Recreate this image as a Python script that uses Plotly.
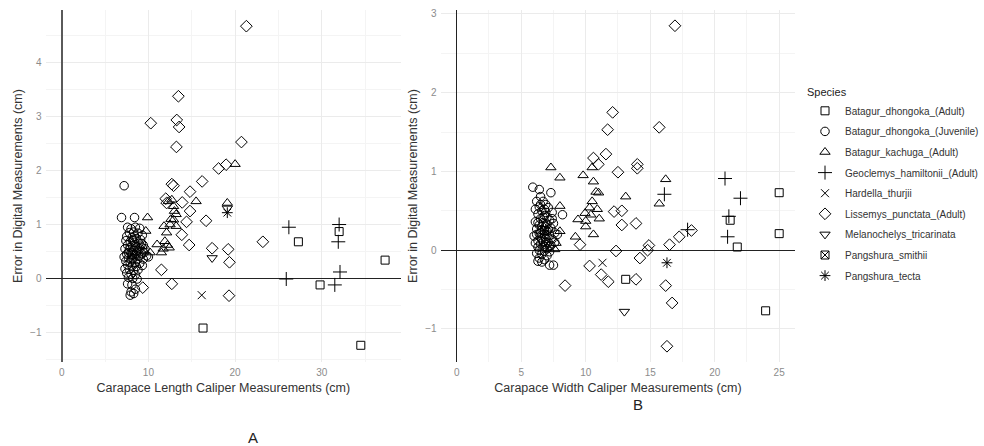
import plotly.graph_objects as go

# ---------------- species / categories ----------------
species = [
    "Batagur_dhongoka_(Adult)",
    "Batagur_dhongoka_(Juvenile)",
    "Batagur_kachuga_(Adult)",
    "Geoclemys_hamiltonii_(Adult)",
    "Hardella_thurjii",
    "Lissemys_punctata_(Adult)",
    "Melanochelys_tricarinata",
    "Pangshura_smithii",
    "Pangshura_tecta",
]

# ---------------- Panel A : carapace length vs error ----------------
a_bd_adult_x = [16.3, 27.3, 32.0, 37.3, 29.8, 34.5]
a_bd_adult_y = [-0.92, 0.68, 0.87, 0.34, -0.12, -1.24]

a_bd_juv_x = [7.2, 6.9, 8.4, 7.6, 8.0, 8.5, 9.0, 7.8, 8.3, 8.8, 9.3, 7.5, 8.1, 8.6, 9.1,
              7.4, 7.9, 8.4, 8.9, 9.4, 7.6, 8.2, 8.7, 9.6, 7.3, 7.8, 8.3, 8.0, 8.6, 9.2,
              7.5, 8.1, 8.4, 8.9, 9.8, 7.2, 7.7, 8.2, 8.7, 9.4, 7.4, 7.9, 8.5, 9.0, 7.6,
              8.1, 8.6, 9.3, 7.3, 7.8, 8.3, 8.8, 7.5, 8.0, 8.5, 7.7, 8.2, 8.7, 7.6, 8.1,
              8.5, 8.0, 7.9, 8.3, 9.0, 9.5, 7.9, 8.4, 10.0, 8.8, 7.7, 8.2, 8.0, 8.5, 9.2]
a_bd_juv_y = [1.72, 1.13, 1.13, 0.95, 0.92, 0.95, 0.93, 0.85, 0.86, 0.84, 0.80, 0.78, 0.76, 0.74, 0.72,
              0.70, 0.68, 0.67, 0.65, 0.62, 0.62, 0.60, 0.58, 0.55, 0.55, 0.53, 0.52, 0.48, 0.47, 0.46,
              0.45, 0.43, 0.42, 0.41, 0.42, 0.40, 0.38, 0.37, 0.35, 0.36, 0.32, 0.30, 0.29, 0.28, 0.25,
              0.23, 0.22, 0.24, 0.18, 0.17, 0.15, 0.16, 0.10, 0.08, 0.07, 0.02, 0.00, -0.01, -0.10, -0.12,
              -0.20, -0.25, -0.31, -0.28, 0.55, 0.48, 0.58, 0.78, 0.40, 0.52, 0.48, 0.70, 0.35, 0.60, 0.65]

a_bk_x = [20.0, 15.5, 19.1, 9.9, 9.7, 11.0, 11.5, 12.4, 12.7, 12.9, 13.2, 12.9, 13.2,
          11.8, 12.1, 11.9, 12.3, 12.5, 11.7, 12.2, 9.3, 9.5, 10.2, 13.0, 12.6]
a_bk_y = [2.12, 1.43, 1.40, 1.13, 0.88, 0.63, 0.48, 0.57, 1.46, 1.34, 1.19, 1.09, 0.97,
          0.97, 0.85, 0.69, 1.43, 1.00, 0.55, 0.62, 0.60, 0.50, 0.48, 1.25, 1.10]

a_gh_x = [26.2, 32.0, 31.9, 32.1, 31.5, 25.9]
a_gh_y = [0.95, 1.00, 0.68, 0.12, -0.12, -0.01]

a_ht_x = [16.15]
a_ht_y = [-0.31]

a_lp_x = [21.3, 13.46, 10.27, 13.27, 13.54, 13.23, 20.73, 18.1, 18.96, 12.7, 12.9, 16.2, 14.8,
          13.9, 14.8, 14.4, 16.65, 13.85, 14.7, 17.35, 19.2, 19.35, 23.2, 11.5, 12.7, 19.3,
          9.35, 12.0, 12.1]
a_lp_y = [4.68, 3.38, 2.88, 2.94, 2.81, 2.44, 2.53, 2.04, 2.11, 1.75, 1.72, 1.80, 1.61,
          1.41, 1.25, 1.05, 1.07, 0.81, 0.62, 0.56, 0.54, 0.30, 0.68, 0.16, -0.10, -0.32,
          -0.17, 1.48, 1.40]

a_mt_x = [17.35, 19.1]
a_mt_y = [0.38, 1.30]

a_ps_x = [8.2]
a_ps_y = [0.45]

a_pt_x = [19.1]
a_pt_y = [1.22]

# ---------------- Panel B : carapace width vs error ----------------
b_bd_adult_x = [25.0, 25.0, 21.2, 21.75, 23.95, 13.1]
b_bd_adult_y = [0.73, 0.21, 0.38, 0.04, -0.77, -0.37]

b_bd_juv_x = [5.9, 6.4, 7.3, 6.5, 6.2, 6.7, 6.9, 6.4, 7.1, 6.1, 6.6, 7.4, 8.2, 6.3, 6.8,
              7.0, 6.5, 7.2, 6.1, 6.7, 7.5, 6.4, 6.9, 7.3, 6.2, 6.6, 7.0, 7.6, 6.4, 6.8,
              7.2, 6.0, 6.5, 6.9, 7.4, 6.3, 6.7, 7.1, 6.1, 6.5, 6.9, 7.3, 6.3, 6.7, 7.0,
              6.4, 6.8, 7.2, 6.2, 6.6, 7.0, 6.4, 6.8, 6.3, 6.6, 7.2, 7.5, 6.6, 7.0, 6.8,
              7.1, 6.5, 6.9, 6.6, 7.2, 6.3, 6.7, 7.4, 6.9, 7.6, 6.2, 6.8, 7.0, 6.5, 7.8]
b_bd_juv_y = [0.80, 0.77, 0.73, 0.68, 0.62, 0.62, 0.58, 0.55, 0.54, 0.52, 0.50, 0.48, 0.45, 0.46, 0.44,
              0.42, 0.40, 0.38, 0.36, 0.35, 0.34, 0.32, 0.30, 0.28, 0.27, 0.26, 0.24, 0.22, 0.21, 0.20,
              0.19, 0.18, 0.16, 0.15, 0.14, 0.12, 0.11, 0.10, 0.09, 0.08, 0.07, 0.06, 0.04, 0.03, 0.02,
              0.00, -0.01, -0.02, -0.04, -0.05, -0.07, -0.10, -0.12, -0.14, -0.15, -0.19, -0.19, 0.30, 0.33, 0.52,
              0.26, 0.22, 0.10, 0.14, 0.05, 0.35, 0.42, 0.40, 0.48, 0.10, 0.20, 0.05, 0.18, 0.58, 0.20]

b_bk_x = [7.3, 8.0, 8.0, 8.0, 7.7, 7.6, 9.8, 10.5, 10.6, 11.0, 10.8, 10.5, 10.3, 10.9,
          11.05, 9.95, 9.4, 10.0, 10.0, 10.6, 9.2, 13.1, 16.2, 15.7, 10.4]
b_bk_y = [1.05, 0.92, 0.56, 0.24, 0.09, 0.01, 0.95, 1.05, 0.87, 0.73, 0.74, 0.62, 0.54, 0.52,
          0.40, 0.47, 0.39, 0.37, 0.30, 0.20, 0.17, 0.68, 0.90, 0.59, 0.45]

b_gh_x = [20.8, 22.0, 21.1, 21.0, 16.1, 17.9]
b_gh_y = [0.91, 0.66, 0.43, 0.17, 0.71, 0.26]

b_ht_x = [11.3]
b_ht_y = [-0.16]

b_lp_x = [16.92, 12.09, 11.7, 15.7, 11.57, 10.6, 10.98, 12.5, 14.0, 14.0, 12.2, 12.8, 12.8,
          13.9, 12.35, 14.2, 14.8, 14.9, 16.5, 17.25, 18.2, 10.3, 11.2, 11.75, 13.9, 16.2,
          16.7, 16.3, 8.4, 9.56]
b_lp_y = [2.85, 1.75, 1.53, 1.56, 1.22, 1.17, 1.09, 0.99, 1.09, 1.04, 0.49, 0.50, 0.32,
          0.34, -0.01, -0.10, 0.00, 0.06, 0.07, 0.17, 0.25, -0.20, -0.31, -0.40, -0.37, -0.45,
          -0.67, -1.22, -0.45, 0.07]

b_mt_x = [13.0]
b_mt_y = [-0.78]

b_ps_x = [6.8]
b_ps_y = [0.25]

b_pt_x = [16.3]
b_pt_y = [-0.16]

panel_a = [
    (a_bd_adult_x, a_bd_adult_y), (a_bd_juv_x, a_bd_juv_y), (a_bk_x, a_bk_y),
    (a_gh_x, a_gh_y), (a_ht_x, a_ht_y), (a_lp_x, a_lp_y), (a_mt_x, a_mt_y),
    (a_ps_x, a_ps_y), (a_pt_x, a_pt_y),
]
panel_b = [
    (b_bd_adult_x, b_bd_adult_y), (b_bd_juv_x, b_bd_juv_y), (b_bk_x, b_bk_y),
    (b_gh_x, b_gh_y), (b_ht_x, b_ht_y), (b_lp_x, b_lp_y), (b_mt_x, b_mt_y),
    (b_ps_x, b_ps_y), (b_pt_x, b_pt_y),
]

# ---------------- styles ----------------
symbols = ["square-open", "circle-open", "triangle-up-open", "cross-thin-open",
           "x-thin-open", "diamond-open", "triangle-down-open", "square-x-open",
           "asterisk-open"]
sizes = [8, 8.5, 9, 10, 8, 9, 9, 8, 9]

FONT = "Liberation Sans, Arial, sans-serif"
fig = go.Figure()

for i, name in enumerate(species):
    xs, ys = panel_a[i]
    fig.add_trace(go.Scatter(
        x=xs, y=ys, mode="markers", name=name, showlegend=False,
        legendgroup="g%d" % i,
        xaxis="x", yaxis="y",
        marker=dict(symbol=symbols[i], size=sizes[i], color="black",
                    line=dict(color="black", width=1)),
    ))
for i, name in enumerate(species):
    xs, ys = panel_b[i]
    fig.add_trace(go.Scatter(
        x=xs, y=ys, mode="markers", name=name, showlegend=True,
        legendgroup="g%d" % i,
        xaxis="x2", yaxis="y2",
        marker=dict(symbol=symbols[i], size=sizes[i], color="black",
                    line=dict(color="black", width=1)),
    ))

W, H = 984, 446
grid = "#ebebeb"
minor_grid = "#f4f4f4"
tickfont = dict(family=FONT, size=10, color="#8c8c8c")
titlefont = dict(family=FONT, size=12.5, color="#333333")

def axis(domain, rng, dtick, mdtick, title, anchor, zcol, zw, standoff):
    return dict(domain=domain, range=rng, dtick=dtick, tick0=0, anchor=anchor,
                automargin=False, ticklabelstandoff=3,
                showgrid=True, gridcolor=grid, gridwidth=1,
                minor=dict(dtick=mdtick, tick0=0, showgrid=True, gridcolor=minor_grid, gridwidth=0.6),
                zeroline=True, zerolinecolor=zcol, zerolinewidth=zw,
                showline=False, ticks="", tickfont=tickfont,
                title=dict(text=title, font=titlefont, standoff=standoff))

ydom = [1 - 362 / H, 1 - 10 / H]
fig.update_layout(
    width=W, height=H,
    margin=dict(l=0, r=0, t=0, b=0),
    paper_bgcolor="white", plot_bgcolor="white",
    font=dict(family=FONT),
    xaxis=axis([45.5 / W, 401.3 / W], [-1.87, 39.17], 10, 5,
               "Carapace Length Caliper Measurements (cm)", "y", "#5a5a5a", 2, 6),
    yaxis=axis(ydom, [-1.55, 4.98], 1, 0.5,
               "Error in Digital Measurements (cm)", "x", "#222222", 1.3, 4),
    xaxis2=axis([440.6 / W, 795.3 / W], [-1.25, 26.25], 5, 2.5,
                "Carapace Width Caliper Measurements (cm)", "y2", "#222222", 1.3, 6),
    yaxis2=axis(ydom, [-1.42, 3.05], 1, 0.5,
                "Error in Digital Measurements (cm)", "x2", "#222222", 1.3, 4),
    legend=dict(
        x=805 / W, y=1 - 82 / H, xanchor="left", yanchor="top",
        title=dict(text="Species", font=dict(family=FONT, size=11, color="#222222")),
        font=dict(family=FONT, size=10, color="#333333"),
        bgcolor="rgba(0,0,0,0)", itemclick=False, tracegroupgap=1.6,
    ),
    showlegend=True,
    annotations=[
        dict(text="A", x=253 / W, y=1 - 437 / H, xref="paper", yref="paper",
             xanchor="center", yanchor="middle",
             showarrow=False, font=dict(family=FONT, size=15, color="#222222")),
        dict(text="B", x=638 / W, y=1 - 404 / H, xref="paper", yref="paper",
             xanchor="center", yanchor="middle",
             showarrow=False, font=dict(family=FONT, size=15, color="#222222")),
    ],
)

fig.write_html("out.html", config={"displayModeBar": False},
               post_script="document.body.style.margin='0px';document.body.style.overflow='hidden';")
